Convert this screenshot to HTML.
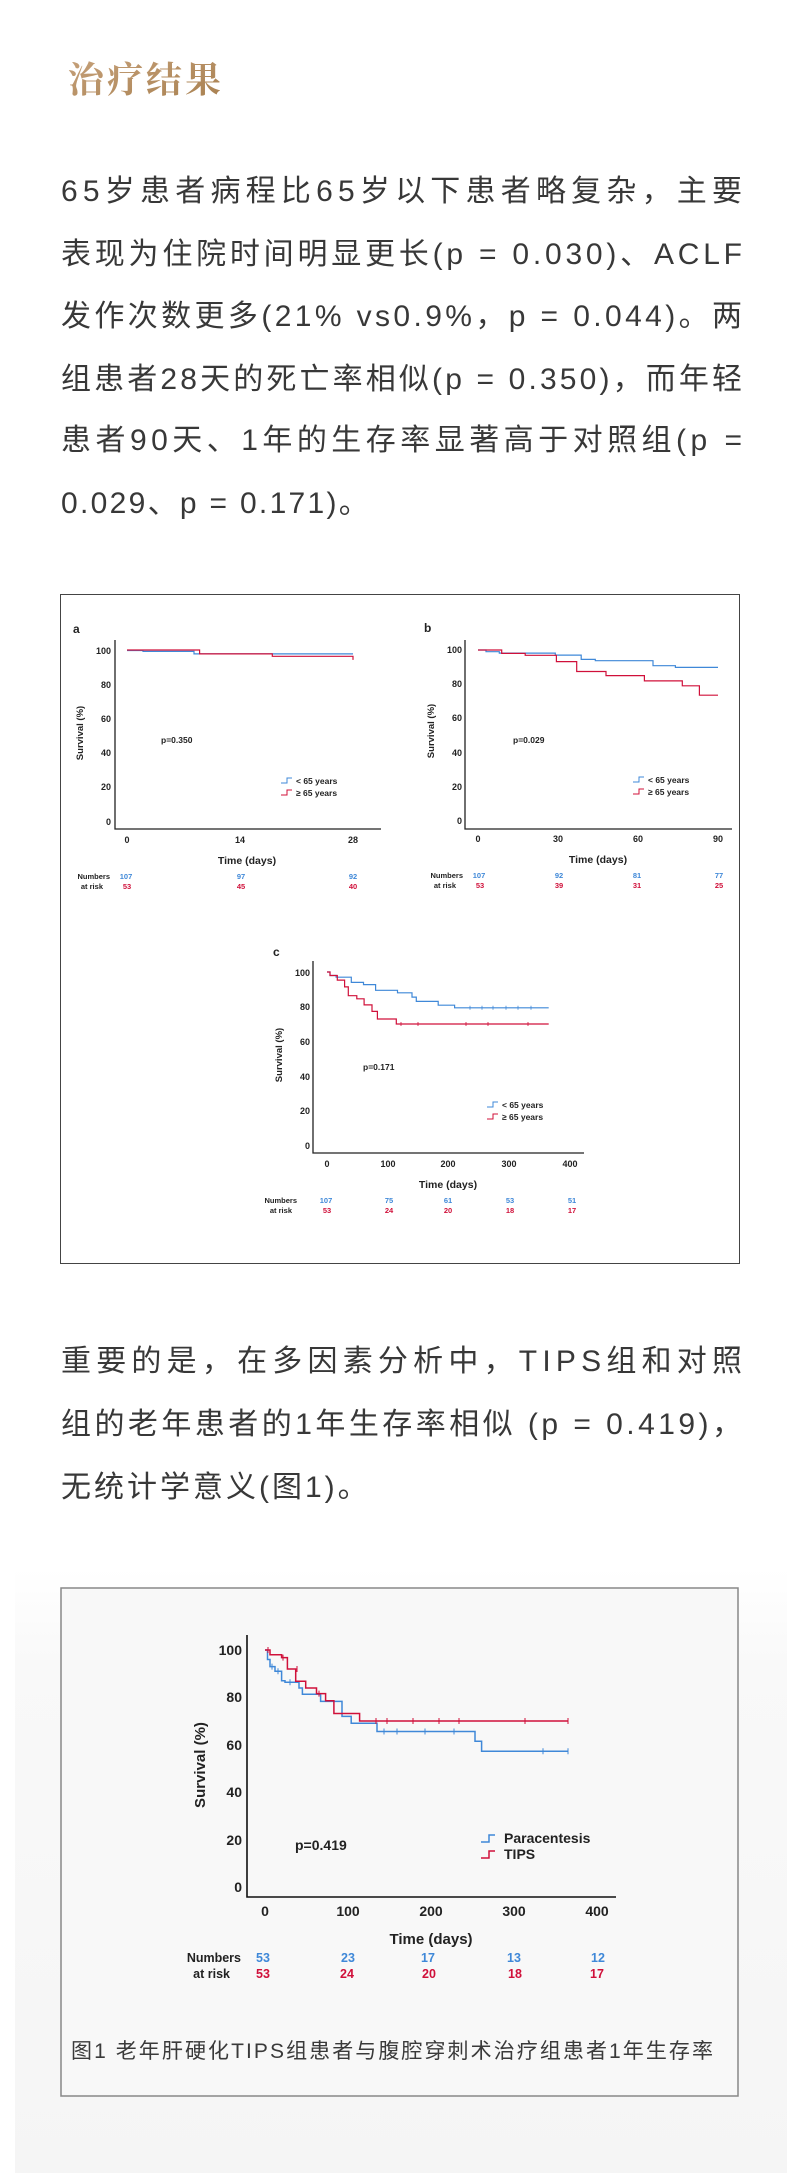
<!DOCTYPE html>
<html><head><meta charset="utf-8"><style>
html,body{margin:0;padding:0;background:#fff}
svg{display:block}
.b{font-family:"Liberation Sans","Noto Sans CJK SC",sans-serif;font-size:30px;fill:#383838}
.s{font-family:"Liberation Sans",sans-serif;font-weight:bold;fill:#222}
.bl{fill:#3f88d8}.rd{fill:#d0103a}
</style></head><body>
<svg width="800" height="2173" viewBox="0 0 800 2173" xmlns="http://www.w3.org/2000/svg">
<defs>
<linearGradient id="g" x1="0" y1="0" x2="0" y2="1"><stop offset="0" stop-color="#ffffff"/><stop offset="0.15" stop-color="#f9f9f9"/><stop offset="1" stop-color="#f5f5f5"/></linearGradient>
<linearGradient id="t" x1="0" y1="0" x2="1" y2="1"><stop offset="0" stop-color="#c7a27c"/><stop offset="1" stop-color="#a8804f"/></linearGradient>
</defs>
<text x="68" y="92" font-family="'Noto Serif CJK SC',serif" font-weight="bold" font-size="36" fill="url(#t)" textLength="153" lengthAdjust="spacing">治疗结果</text>

<g class="b">
<text x="61" y="201" textLength="681" lengthAdjust="spacing">65岁患者病程比65岁以下患者略复杂，主要</text>
<text x="61" y="264" textLength="681" lengthAdjust="spacing">表现为住院时间明显更长(p = 0.030)、ACLF</text>
<text x="61" y="326" textLength="681" lengthAdjust="spacing">发作次数更多(21% vs0.9%，p = 0.044)。两</text>
<text x="61" y="389" textLength="681" lengthAdjust="spacing">组患者28天的死亡率相似(p = 0.350)，而年轻</text>
<text x="61" y="450" textLength="681" lengthAdjust="spacing">患者90天、1年的生存率显著高于对照组(p =</text>
<text x="61" y="513" letter-spacing="2.3">0.029、p = 0.171)。</text>
</g>

<!-- Figure 1 -->
<rect x="60.5" y="594.5" width="679" height="669" fill="#fff" stroke="#444" stroke-width="1"/>
<g class="s" font-size="9">
<text x="73" y="633" font-size="12">a</text>
<path d="M115,640 V829 H381" fill="none" stroke="#222" stroke-width="1.3"/>
<g text-anchor="end"><text x="111" y="654">100</text><text x="111" y="688">80</text><text x="111" y="722">60</text><text x="111" y="756">40</text><text x="111" y="790">20</text><text x="111" y="825">0</text></g>
<g text-anchor="middle"><text x="127" y="843">0</text><text x="240" y="843">14</text><text x="353" y="843">28</text>
<text x="247" y="864" font-size="10.5">Time (days)</text></g>
<text transform="translate(83,733) rotate(-90)" text-anchor="middle" font-size="9.5">Survival (%)</text>
<text x="161" y="743" font-size="8.5">p=0.350</text>
<path d="M281,783 h6 v-5 h5" fill="none" stroke="#3f88d8" stroke-width="1"/>
<path d="M281,795 h6 v-5 h5" fill="none" stroke="#d0103a" stroke-width="1"/>
<text x="296" y="784" font-size="8.5">&lt; 65 years</text><text x="296" y="796" font-size="8.5">≥ 65 years</text>
<g font-size="7.5"><text x="110" y="879" text-anchor="end">Numbers</text><text x="103" y="889" text-anchor="end">at risk</text></g>
<g font-size="7.5" text-anchor="middle"><text class="bl" x="126" y="879">107</text><text class="bl" x="241" y="879">97</text><text class="bl" x="353" y="879">92</text>
<text class="rd" x="127" y="889">53</text><text class="rd" x="241" y="889">45</text><text class="rd" x="353" y="889">40</text></g>
<path d="M127,650.5 H143 V651.4 H194 V653.9 H353" fill="none" stroke="#3f88d8" stroke-width="1.2"/>
<path d="M127,650 H199.6 V653.9 H272.3 V656.3 H353 V659.9" fill="none" stroke="#d0103a" stroke-width="1.2"/>

<text x="424" y="632" font-size="12">b</text>
<path d="M465,640 V829 H732" fill="none" stroke="#222" stroke-width="1.3"/>
<g text-anchor="end"><text x="462" y="653">100</text><text x="462" y="687">80</text><text x="462" y="721">60</text><text x="462" y="756">40</text><text x="462" y="790">20</text><text x="462" y="824">0</text></g>
<g text-anchor="middle"><text x="478" y="842">0</text><text x="558" y="842">30</text><text x="638" y="842">60</text><text x="718" y="842">90</text>
<text x="598" y="863" font-size="10.5">Time (days)</text></g>
<text transform="translate(434,731) rotate(-90)" text-anchor="middle" font-size="9.5">Survival (%)</text>
<text x="513" y="743" font-size="8.5">p=0.029</text>
<path d="M633,782 h6 v-5 h5" fill="none" stroke="#3f88d8" stroke-width="1"/>
<path d="M633,794 h6 v-5 h5" fill="none" stroke="#d0103a" stroke-width="1"/>
<text x="648" y="783" font-size="8.5">&lt; 65 years</text><text x="648" y="795" font-size="8.5">≥ 65 years</text>
<g font-size="7.5"><text x="463" y="878" text-anchor="end">Numbers</text><text x="456" y="888" text-anchor="end">at risk</text></g>
<g font-size="7.5" text-anchor="middle"><text class="bl" x="479" y="878">107</text><text class="bl" x="559" y="878">92</text><text class="bl" x="637" y="878">81</text><text class="bl" x="719" y="878">77</text>
<text class="rd" x="480" y="888">53</text><text class="rd" x="559" y="888">39</text><text class="rd" x="637" y="888">31</text><text class="rd" x="719" y="888">25</text></g>
<path d="M478,650 H486 V651.7 H499.3 V653.1 H555.3 V655.1 H581.2 V659.4 H595.3 V660.7 H653 V665.7 H675.4 V667.4 H718" fill="none" stroke="#3f88d8" stroke-width="1.2"/>
<path d="M478,650 H501.7 V653.4 H525.2 V655.3 H556.4 V661.6 H576.7 V671.5 H606 V675.6 H644.4 V680.9 H682.3 V685.8 H699.4 V695.2 H718" fill="none" stroke="#d0103a" stroke-width="1.2"/>

<text x="273" y="956" font-size="12">c</text>
<path d="M313,961 V1153 H584" fill="none" stroke="#222" stroke-width="1.3"/>
<g text-anchor="end"><text x="310" y="976">100</text><text x="310" y="1010">80</text><text x="310" y="1045">60</text><text x="310" y="1080">40</text><text x="310" y="1114">20</text><text x="310" y="1149">0</text></g>
<g text-anchor="middle"><text x="327" y="1167">0</text><text x="388" y="1167">100</text><text x="448" y="1167">200</text><text x="509" y="1167">300</text><text x="570" y="1167">400</text>
<text x="448" y="1188" font-size="10.5">Time (days)</text></g>
<text transform="translate(282,1055) rotate(-90)" text-anchor="middle" font-size="9.5">Survival (%)</text>
<text x="363" y="1070" font-size="8.5">p=0.171</text>
<path d="M487,1107 h6 v-5 h5" fill="none" stroke="#3f88d8" stroke-width="1"/>
<path d="M487,1119 h6 v-5 h5" fill="none" stroke="#d0103a" stroke-width="1"/>
<text x="502" y="1108" font-size="8.5">&lt; 65 years</text><text x="502" y="1120" font-size="8.5">≥ 65 years</text>
<g font-size="7.5"><text x="297" y="1203" text-anchor="end">Numbers</text><text x="292" y="1213" text-anchor="end">at risk</text></g>
<g font-size="7.5" text-anchor="middle"><text class="bl" x="326" y="1203">107</text><text class="bl" x="389" y="1203">75</text><text class="bl" x="448" y="1203">61</text><text class="bl" x="510" y="1203">53</text><text class="bl" x="572" y="1203">51</text>
<text class="rd" x="327" y="1213">53</text><text class="rd" x="389" y="1213">24</text><text class="rd" x="448" y="1213">20</text><text class="rd" x="510" y="1213">18</text><text class="rd" x="572" y="1213">17</text></g>
<path d="M327,972 H330 V975.5 H336.1 V977.2 H351.3 V982.4 H363.5 V984.6 H375.6 V990.3 H397.5 V992.8 H412 V997.1 H416.3 V1001.4 H438.2 V1005.2 H454.6 V1007.8 H548.7" fill="none" stroke="#3f88d8" stroke-width="1.2"/>
<path d="M327,972 H330 V975.5 H337.3 V980.1 H344.6 V986.9 H348.3 V995.7 H356.8 V998.8 H364.1 V1004.9 H372 V1011.4 H377.4 V1019 H396.3 V1024 H548.7" fill="none" stroke="#d0103a" stroke-width="1.2"/>
<g stroke="#3f88d8" stroke-width="0.8"><path d="M470,1005.8v4M482,1005.8v4M493,1005.8v4M506,1005.8v4M518,1005.8v4M531,1005.8v4"/></g>
<g stroke="#d0103a" stroke-width="0.8"><path d="M401,1022v4M418,1022v4M466,1022v4M488,1022v4M528,1022v4"/></g>
</g>

<g class="b">
<text x="61" y="1371" textLength="681" lengthAdjust="spacing">重要的是，在多因素分析中，TIPS组和对照</text>
<text x="61" y="1434" textLength="681" lengthAdjust="spacing">组的老年患者的1年生存率相似 (p = 0.419)，</text>
<text x="61" y="1497" letter-spacing="3">无统计学意义(图1)。</text>
</g>

<!-- Figure 2 -->
<rect x="15" y="1568" width="772" height="605" fill="url(#g)"/>
<rect x="61" y="1588" width="677" height="508" fill="#f8f8f8" stroke="#888" stroke-width="1.5"/>
<g class="s">
<path d="M247,1635 V1897 H616" fill="none" stroke="#111" stroke-width="1.6"/>
<g text-anchor="end" font-size="14"><text x="242" y="1655">100</text><text x="242" y="1702">80</text><text x="242" y="1750">60</text><text x="242" y="1797">40</text><text x="242" y="1845">20</text><text x="242" y="1892">0</text></g>
<g text-anchor="middle" font-size="14"><text x="265" y="1916">0</text><text x="348" y="1916">100</text><text x="431" y="1916">200</text><text x="514" y="1916">300</text><text x="597" y="1916">400</text>
<text x="431" y="1944" font-size="15">Time (days)</text></g>
<text transform="translate(205,1765) rotate(-90)" text-anchor="middle" font-size="15">Survival (%)</text>
<text x="295" y="1850" font-size="14">p=0.419</text>
<path d="M481,1842 h8 v-7 h6" fill="none" stroke="#3f88d8" stroke-width="1.5"/>
<path d="M481,1858 h8 v-7 h6" fill="none" stroke="#d0103a" stroke-width="1.5"/>
<text x="504" y="1843" font-size="14">Paracentesis</text><text x="504" y="1859" font-size="14">TIPS</text>
<g font-size="12.5"><text x="241" y="1962" text-anchor="end">Numbers</text><text x="230" y="1978" text-anchor="end">at risk</text></g>
<g font-size="12.5" text-anchor="middle"><text class="bl" x="263" y="1962">53</text><text class="bl" x="348" y="1962">23</text><text class="bl" x="428" y="1962">17</text><text class="bl" x="514" y="1962">13</text><text class="bl" x="598" y="1962">12</text>
<text class="rd" x="263" y="1978">53</text><text class="rd" x="347" y="1978">24</text><text class="rd" x="429" y="1978">20</text><text class="rd" x="515" y="1978">18</text><text class="rd" x="597" y="1978">17</text></g>
<path d="M265,1650 H267.5 V1659.5 H270 V1666.6 H275 V1671.3 H281.6 V1680.8 H285 V1682.2 H299 V1688 H302.4 V1694.3 H320.6 V1701.4 H342 V1716.4 H351.2 V1723.2 H377 V1731.5 H475 V1741.2 H481.6 V1751.2 H568" fill="none" stroke="#3f88d8" stroke-width="1.5"/>
<path d="M265,1650 H270 V1654.7 H281.6 V1657.6 H287.4 V1669 H295.7 V1681.3 H305.7 V1688 H316.5 V1693.6 H325.6 V1700.7 H333.9 V1713.5 H359.6 V1721 H568" fill="none" stroke="#d0103a" stroke-width="1.5"/>
<g stroke="#3f88d8" stroke-width="1"><path d="M384,1728.5v6M397,1728.5v6M425,1728.5v6M454,1728.5v6M543,1748.2v6M568,1748.2v6M272,1663.6v6M278,1668.3v6M290,1679.2v6"/></g>
<g stroke="#d0103a" stroke-width="1"><path d="M376,1718v6M387,1718v6M413,1718v6M439,1718v6M459,1718v6M525,1718v6M568,1718v6M268,1647v6M283,1654.6v6M297,1666v6M319,1690.6v6"/></g>
</g>
<text x="71" y="2058" font-family="'Liberation Sans','Noto Sans CJK SC',sans-serif" font-size="21" fill="#3a3a3a" textLength="642" lengthAdjust="spacing">图1 老年肝硬化TIPS组患者与腹腔穿刺术治疗组患者1年生存率</text>
</svg>
</body></html>
